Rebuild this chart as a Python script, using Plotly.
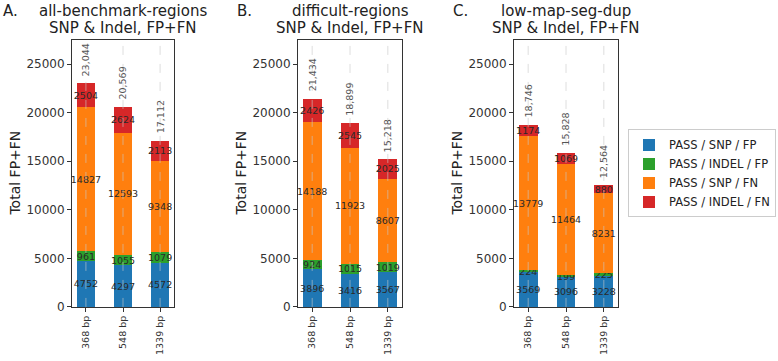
import plotly.graph_objects as go

categories = ["368 bp", "548 bp", "1339 bp"]
region_names = ["all-benchmark-regions", "difficult-regions", "low-map-seg-dup"]
panel_letters = ["A.", "B.", "C."]
subtitle = "SNP & Indel, FP+FN"
y_title = "Total FP+FN"
y_ticks = [0, 5000, 10000, 15000, 20000, 25000]

series_names = ["PASS / SNP / FP", "PASS / INDEL / FP", "PASS / SNP / FN", "PASS / INDEL / FN"]
series_colors = ["#1f77b4", "#2ca02c", "#ff7f0e", "#d62728"]

# all-benchmark-regions
all_snp_fp = [4752, 4297, 4572]
all_indel_fp = [961, 1055, 1079]
all_snp_fn = [14827, 12593, 9348]
all_indel_fn = [2504, 2624, 2113]

# difficult-regions
diff_snp_fp = [3896, 3416, 3567]
diff_indel_fp = [924, 1015, 1019]
diff_snp_fn = [14188, 11923, 8607]
diff_indel_fn = [2426, 2545, 2025]

# low-map-seg-dup
lowmap_snp_fp = [3569, 3096, 3228]
lowmap_indel_fp = [224, 199, 225]
lowmap_snp_fn = [13779, 11464, 8231]
lowmap_indel_fn = [1174, 1069, 880]

panels = [
    [all_snp_fp, all_indel_fp, all_snp_fn, all_indel_fn],
    [diff_snp_fp, diff_indel_fp, diff_snp_fn, diff_indel_fn],
    [lowmap_snp_fp, lowmap_indel_fp, lowmap_snp_fn, lowmap_indel_fn],
]

W, H = 778, 361
x_domains = [[72 / W, 174 / W], [298 / W, 402 / W], [514 / W, 618 / W]]
y_domain = [1 - 313 / H, 1 - 41 / H]
letter_x = [2, 236, 452]

fig = go.Figure()
annotations = []
shapes = []
axis_color = "#333333"

for i, series in enumerate(panels):
    n = "" if i == 0 else str(i + 1)
    xa, ya = "x" + n, "y" + n
    for j, vals in enumerate(series):
        fig.add_trace(go.Bar(
            x=categories, y=vals, name=series_names[j],
            marker=dict(color=series_colors[j], line=dict(width=0)),
            width=0.5, text=[str(v) for v in vals], textposition="inside",
            insidetextanchor="middle", textangle=0, constraintext="none",
            textfont=dict(size=9.5, color="#2a2a2a"), cliponaxis=False,
            xaxis=xa, yaxis=ya, showlegend=(i == 0), legendgroup=series_names[j],
        ))
    totals = [sum(v) for v in zip(*series)]
    for c, t in zip(categories, totals):
        annotations.append(dict(
            x=c, y=t, xref=xa, yref=ya, text=f"{t:,}", textangle=-90,
            yanchor="bottom", xanchor="center", yshift=5, showarrow=False,
            font=dict(size=9.5, color="#555555"),
        ))
        shapes.append(dict(
            type="line", xref=xa, yref=ya + " domain", x0=c, x1=c, y0=0, y1=1,
            line=dict(color="rgba(200,200,200,0.6)", width=1, dash="dash"),
            layer="above",
        ))
    # titles
    annotations.append(dict(
        x=0.5, xref=xa + " domain", y=1 - 11 / H, yref="paper", text=region_names[i],
        showarrow=False, xanchor="center", yanchor="middle", borderpad=0,
        font=dict(size=15, color="#222222"),
    ))
    annotations.append(dict(
        x=0.5, xref=xa + " domain", y=1 - 28.5 / H, yref="paper", text=subtitle,
        showarrow=False, xanchor="center", yanchor="middle", borderpad=0,
        font=dict(size=15, color="#222222"),
    ))
    annotations.append(dict(
        x=letter_x[i] / W, xref="paper", y=1 - 11 / H, yref="paper", text=panel_letters[i],
        showarrow=False, xanchor="left", yanchor="middle", borderpad=0,
        font=dict(size=15, color="#222222"),
    ))
    annotations.append(dict(
        x=0, xref=xa + " domain", xshift=-57, y=0.5, yref=ya + " domain",
        text=y_title, textangle=-90, showarrow=False, xanchor="center", yanchor="middle",
        font=dict(size=14, color="#222222"),
    ))

    fig.layout["xaxis" + n] = dict(
        domain=x_domains[i], anchor=ya, type="category", categoryorder="array",
        categoryarray=categories, range=[-0.375, 2.375],
        showline=True, linecolor=axis_color, linewidth=1, mirror=True,
        ticks="outside", ticklen=4, tickcolor=axis_color, tickangle=-90,
        tickfont=dict(size=9.5, color="#333333"), showgrid=False, zeroline=False,
    )
    fig.layout["yaxis" + n] = dict(
        domain=y_domain, anchor=xa, range=[0, 27450], tickvals=y_ticks,
        ticktext=[str(v) for v in y_ticks],
        showline=True, linecolor=axis_color, linewidth=1, mirror=True,
        ticks="outside", ticklen=4, tickcolor=axis_color,
        tickfont=dict(size=12, color="#333333"), showgrid=False, zeroline=False,
    )

fig.update_layout(
    width=W, height=H, margin=dict(l=0, r=0, t=0, b=0),
    barmode="stack", plot_bgcolor="white", paper_bgcolor="white",
    font=dict(family="DejaVu Sans", color="#222222"),
    annotations=annotations, shapes=shapes,
    legend=dict(
        x=776 / W, y=1 - 132 / H, xanchor="right", yanchor="top",
        bordercolor="#cccccc", borderwidth=1, bgcolor="white",
        font=dict(size=11.5, color="#222222"), traceorder="normal",
        tracegroupgap=0,
    ),
)

fig.write_html(
    "out.html",
    config={"displayModeBar": False},
    post_script="document.body.style.margin='0';document.body.style.padding='0';",
)
